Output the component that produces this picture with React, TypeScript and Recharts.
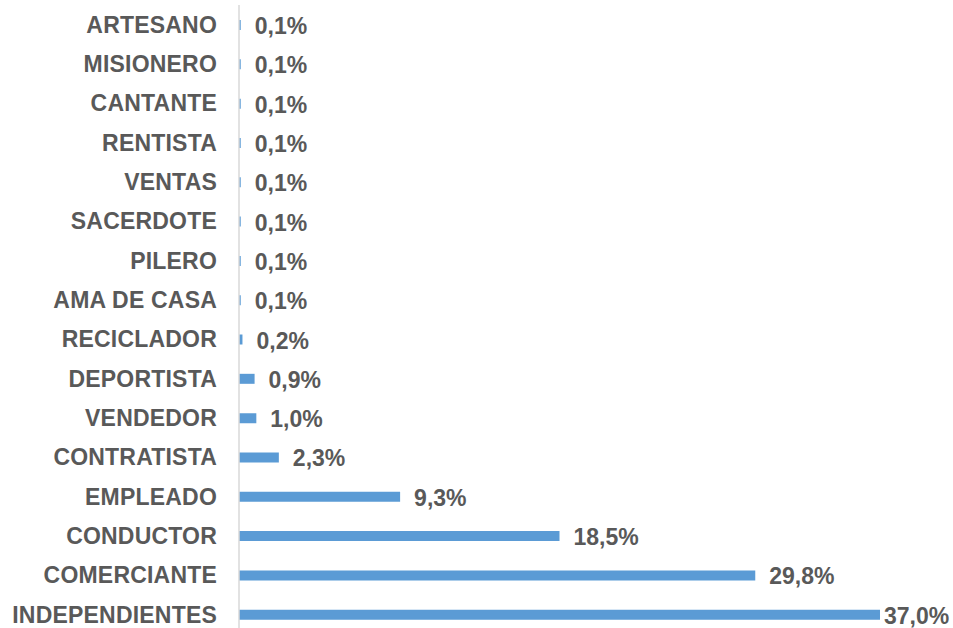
import React from 'react';
import { BarChart, Bar, XAxis, YAxis, LabelList } from 'recharts';

// ocupaciones, de arriba hacia abajo
const categories = [
  'ARTESANO',
  'MISIONERO',
  'CANTANTE',
  'RENTISTA',
  'VENTAS',
  'SACERDOTE',
  'PILERO',
  'AMA DE CASA',
  'RECICLADOR',
  'DEPORTISTA',
  'VENDEDOR',
  'CONTRATISTA',
  'EMPLEADO',
  'CONDUCTOR',
  'COMERCIANTE',
  'INDEPENDIENTES'
];

const percentages = [0.1, 0.1, 0.1, 0.1, 0.1, 0.1, 0.1, 0.1, 0.2, 0.9, 1.0, 2.3, 9.3, 18.5, 29.8, 37.0];

const data = categories.map((name, i) => ({ name, value: percentages[i] }));

const FONT = '"Liberation Sans", Arial, sans-serif';
const TEXT_COLOR = '#595959';
const BAR_COLOR = '#5B9BD5';

const formatPct = (v: number) => `${v.toFixed(1).replace('.', ',')}%`;

// etiqueta a la derecha de la barra; la última se pega al borde como en Excel
const ValueLabel = (props: any) => {
  const { x, y, width, height, value } = props;
  const lx = Math.min(x + width + 14, 884);
  return (
    <text
      x={lx}
      y={y + height / 2 + 1}
      fill={TEXT_COLOR}
      fontFamily={FONT}
      fontSize={23}
      fontWeight="bold"
      dominantBaseline="central"
    >
      {formatPct(value)}
    </text>
  );
};

export default function App() {
  return (
    <div style={{ position: 'absolute', left: 0, top: 0, width: 953, height: 628, overflow: 'hidden', background: '#fff' }}>
      <BarChart
        width={953}
        height={634}
        data={data}
        layout="vertical"
        margin={{ top: 5, right: 73, bottom: 0, left: 0 }}
        barCategoryGap={0}
      >
        <XAxis type="number" domain={[0, 37]} hide />
        <YAxis
          type="category"
          dataKey="name"
          width={239}
          axisLine={{ stroke: '#d9d9d9', strokeWidth: 1.5 }}
          tickLine={false}
          tickSize={0}
          tickMargin={22}
          interval={0}
          tick={{ fill: TEXT_COLOR, fontFamily: FONT, fontSize: 23, fontWeight: 'bold', letterSpacing: 0.2 }}
        />
        <Bar dataKey="value" fill={BAR_COLOR} barSize={10} isAnimationActive={false}>
          <LabelList dataKey="value" content={ValueLabel} />
        </Bar>
      </BarChart>
    </div>
  );
}
